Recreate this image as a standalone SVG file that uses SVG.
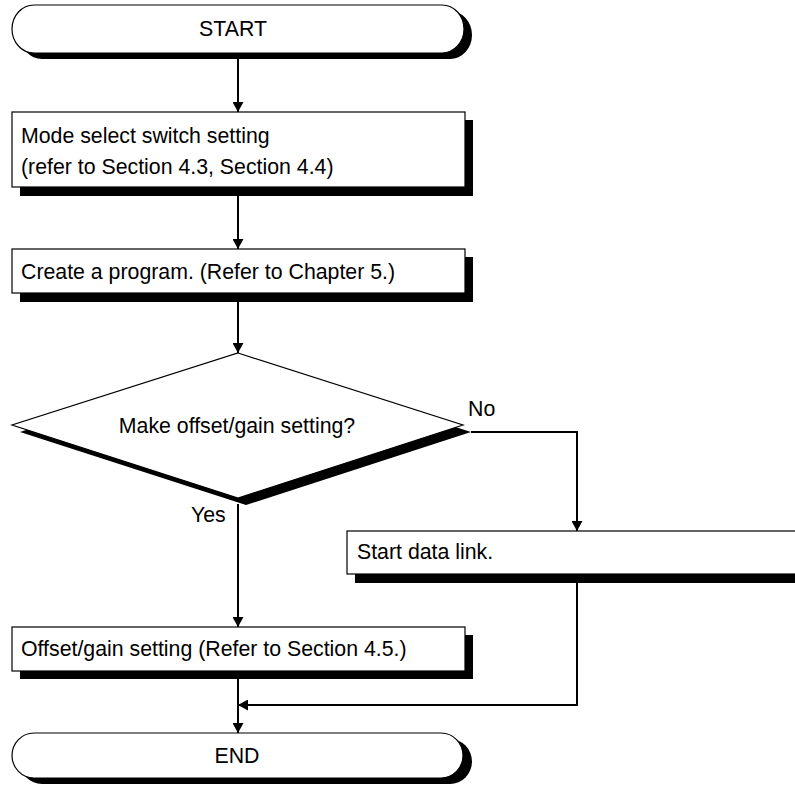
<svg xmlns="http://www.w3.org/2000/svg" width="795" height="785" viewBox="0 0 795 785">
<style>
.t{font-family:"Liberation Sans",Arial,sans-serif;font-size:21.3px;fill:#000}
.box{fill:#fff;stroke:#000;stroke-width:1.2}
.sh{fill:#000;stroke:none}
.ln{fill:none;stroke:#000;stroke-width:2}
</style>
<defs>
<marker id="arr" markerUnits="userSpaceOnUse" markerWidth="11" markerHeight="11" refX="10" refY="5.5" orient="auto">
<path d="M0,0 L10,5.5 L0,11 z" fill="#000"/>
</marker>
</defs>
<rect width="795" height="785" fill="#fff"/>
<g id="connectors">
<line class="ln" x1="238" y1="53" x2="238" y2="112" marker-end="url(#arr)"/>
<line class="ln" x1="238" y1="196" x2="238" y2="249" marker-end="url(#arr)"/>
<line class="ln" x1="238" y1="301" x2="238" y2="353" marker-end="url(#arr)"/>
<line class="ln" x1="238" y1="504" x2="238" y2="627" marker-end="url(#arr)"/>
<polyline class="ln" points="471,432 577,432 577,531" marker-end="url(#arr)"/>
<line class="ln" x1="238" y1="679" x2="238" y2="733" marker-end="url(#arr)"/>
<polyline class="ln" points="577,583 577,705 238,705" marker-end="url(#arr)"/>
</g>
<g id="start">
<rect class="sh" x="20" y="11" width="452" height="48" rx="22" ry="24"/>
<rect class="box" x="12" y="5" width="452" height="48" rx="22" ry="24"/>
<text class="t" x="233" y="36" text-anchor="middle">START</text>
</g>
<g id="mode">
<rect class="sh" x="20" y="120" width="453" height="76"/>
<rect class="box" x="12" y="112" width="453" height="75"/>
<text class="t" x="21" y="143">Mode select switch setting</text>
<text class="t" x="21" y="174">(refer to Section 4.3, Section 4.4)</text>
</g>
<g id="create">
<rect class="sh" x="20" y="257" width="453" height="45"/>
<rect class="box" x="12" y="249" width="453" height="44"/>
<text class="t" x="21" y="279">Create a program. (Refer to Chapter 5.)</text>
</g>
<g id="decision">
<polygon class="sh" points="246,360 471,432 246,505 20,432"/>
<polygon class="box" points="238,353 463,425 238,498 12,425"/>
<text class="t" x="237" y="433" text-anchor="middle">Make offset/gain setting?</text>
<text class="t" x="468" y="416">No</text>
<text class="t" x="191" y="522">Yes</text>
</g>
<g id="datalink">
<rect class="sh" x="355" y="539" width="470" height="44"/>
<rect class="box" x="347" y="531" width="470" height="43"/>
<text class="t" x="357" y="559">Start data link.</text>
</g>
<g id="offset">
<rect class="sh" x="20" y="635" width="453" height="44"/>
<rect class="box" x="12" y="627" width="453" height="44"/>
<text class="t" x="21" y="656">Offset/gain setting (Refer to Section 4.5.)</text>
</g>
<g id="end">
<rect class="sh" x="20" y="739" width="452" height="45" rx="22" ry="23"/>
<rect class="box" x="12" y="733" width="451" height="45" rx="22" ry="23"/>
<text class="t" x="237" y="763" text-anchor="middle">END</text>
</g>
</svg>
